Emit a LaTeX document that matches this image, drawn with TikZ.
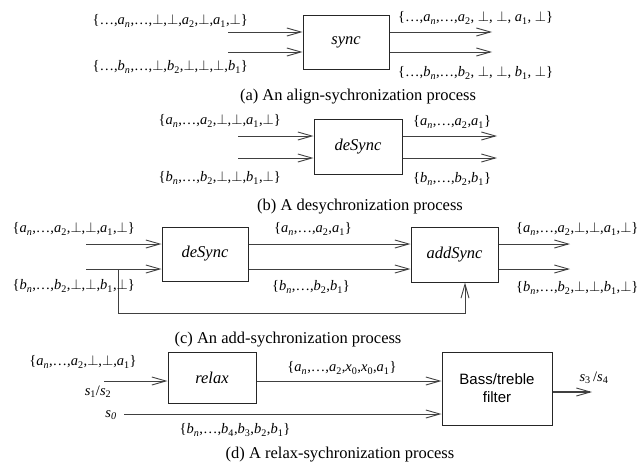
\documentclass[tikz,border=0pt]{standalone}
\usepackage{fontspec}
\setmainfont{Liberation Serif}
\newfontfamily\filterfont{Liberation Sans}
\usetikzlibrary{arrows.meta}
% indexed symbol: letter with a subscript
\newcommand{\ix}[2]{\textit{#1}\textsubscript{#2}}
\newcommand{\bt}{$\perp$}
\newcommand{\nn}{\textit{n}}
\begin{document}
\begin{tikzpicture}[x=1pt,y=-1pt,
  proc/.style={draw=black!85,line width=1pt,inner sep=0pt,
    font=\itshape\fontsize{16.5}{16.5}\selectfont},
  procsans/.style={draw=black!85,line width=1pt,inner sep=0pt,align=center,
    font=\filterfont\fontsize{15}{18}\selectfont},
  flow/.style={draw=black!75,line width=0.9pt,
    -{Straight Barb[length=14pt,width=8pt,line width=0.9pt]}},
  lbl/.style={inner sep=0pt,font=\fontsize{14.5}{15}\selectfont},
  captxt/.style={inner sep=0pt,font=\fontsize{16.5}{17}\selectfont}]
\useasboundingbox (0,0) rectangle (640,471);

% ---------- (a) align-synchronization ----------
\node[proc,minimum width=86pt,minimum height=54pt] (sync) at (346,42) {sync};
\coordinate (a-in1) at (228,32);
\coordinate (a-in2) at (228,52);
\coordinate (a-out1) at (492,32);
\coordinate (a-out2) at (492,52);
\draw[flow] (a-in1) -- (a-in1 -| sync.west);
\draw[flow] (a-in2) -- (a-in2 -| sync.west);
\draw[flow] (a-out1 -| sync.east) -- (a-out1);
\draw[flow] (a-out2 -| sync.east) -- (a-out2);
\node[lbl,anchor=east] (a-l1) at (248,21) {\{…,\ix{a}{\nn},…,\bt,\bt,\ix{a}{2},\bt,\ix{a}{1},\bt\}};
\node[lbl,anchor=east] (a-l2) at (248,67) {\{…,\ix{b}{\nn},…,\bt,\ix{b}{2},\bt,\bt,\bt,\ix{b}{1}\}};
\node[lbl,anchor=west] (a-r1) at (398,18) {\{…,\ix{a}{\nn},…,\ix{a}{2}, \bt, \bt, \ix{a}{1}, \bt\}};
\node[lbl,anchor=west] (a-r2) at (398,73) {\{…,\ix{b}{\nn},…,\ix{b}{2}, \bt, \bt, \ix{b}{1}, \bt\}};
\node[captxt] (cap-a) at (358,97) {(a) An align-sychronization process};

% ---------- (b) desynchronization ----------
\node[proc,minimum width=88pt,minimum height=55pt] (desync-b) at (358,147) {deSync};
\coordinate (b-in1) at (238,136);
\coordinate (b-in2) at (238,158);
\coordinate (b-out1) at (497,136);
\coordinate (b-out2) at (497,158);
\draw[flow] (b-in1) -- (b-in1 -| desync-b.west);
\draw[flow] (b-in2) -- (b-in2 -| desync-b.west);
\draw[flow] (b-out1 -| desync-b.east) -- (b-out1);
\draw[flow] (b-out2 -| desync-b.east) -- (b-out2);
\node[lbl,anchor=east] (b-l1) at (281,121) {\{\ix{a}{\nn},…,\ix{a}{2},\bt,\bt,\ix{a}{1},\bt\}};
\node[lbl,anchor=east] (b-l2) at (281,178) {\{\ix{b}{\nn},…,\ix{b}{2},\bt,\bt,\ix{b}{1},\bt\}};
\node[lbl,anchor=west] (b-r1) at (413,122) {\{\ix{a}{\nn},…,\ix{a}{2},\ix{a}{1}\}};
\node[lbl,anchor=west] (b-r2) at (413,179) {\{\ix{b}{\nn},…,\ix{b}{2},\ix{b}{1}\}};
\node[captxt] (cap-b) at (360,207) {(b) A desychronization process};

% ---------- (c) add-synchronization ----------
\node[proc,minimum width=86pt,minimum height=54pt] (desync-c) at (205,254) {deSync};
\node[proc,minimum width=87pt,minimum height=55pt] (addsync) at (454.5,254.5) {addSync};
\coordinate (c-in1) at (86,244);
\coordinate (c-in2) at (86,269);
\coordinate (c-out1) at (570,244);
\coordinate (c-out2) at (570,269);
\coordinate (c-tap) at (118,269);
\coordinate (c-fb) at (465,313);
\draw[flow] (c-in1) -- (c-in1 -| desync-c.west);
\draw[flow] (c-in2) -- (c-in2 -| desync-c.west);
\draw[flow] (c-in1 -| desync-c.east) -- (c-in1 -| addsync.west);
\draw[flow] (c-in2 -| desync-c.east) -- (c-in2 -| addsync.west);
\draw[flow] (c-out1 -| addsync.east) -- (c-out1);
\draw[flow] (c-out2 -| addsync.east) -- (c-out2);
\draw[flow] (c-tap) |- (c-fb) -- (c-fb |- addsync.south);
\node[lbl,anchor=east] (c-l1) at (135,229) {\{\ix{a}{\nn},…,\ix{a}{2},\bt,\bt,\ix{a}{1},\bt\}};
\node[lbl,anchor=east] (c-l2) at (135,286) {\{\ix{b}{\nn},…,\ix{b}{2},\bt,\bt,\ix{b}{1},\bt\}};
\node[lbl] (c-m1) at (313,229) {\{\ix{a}{\nn},…,\ix{a}{2},\ix{a}{1}\}};
\node[lbl] (c-m2) at (311,287) {\{\ix{b}{\nn},…,\ix{b}{2},\ix{b}{1}\}};
\node[lbl,anchor=west] (c-r1) at (516,229) {\{\ix{a}{\nn},…,\ix{a}{2},\bt,\bt,\ix{a}{1},\bt\}};
\node[lbl,anchor=west] (c-r2) at (516,288) {\{\ix{b}{\nn},…,\ix{b}{2},\bt,\bt,\ix{b}{1},\bt\}};
\node[captxt] (cap-c) at (288,340) {(c) An add-sychronization process};

% ---------- (d) relax-synchronization ----------
\node[proc,minimum width=88pt,minimum height=51pt] (relax) at (212,377.5) {relax};
\node[procsans,minimum width=110pt,minimum height=73pt] (filter) at (497,388.5) {Bass/treble\\filter};
\coordinate (d-in) at (104,381);
\coordinate (d-s0) at (124,414);
\coordinate (d-out) at (592,392);
\draw[flow] (d-in) -- (d-in -| relax.west);
\draw[flow] (d-in -| relax.east) -- (d-in -| filter.west);
\draw[flow] (d-s0) -- (d-s0 -| filter.west);
\draw[flow,line width=1.3pt] (d-out -| filter.east) -- (d-out);
\node[lbl] (d-l1) at (83,362) {\{\ix{a}{\nn},…,\ix{a}{2},\bt,\bt,\ix{a}{1}\}};
\node[lbl] (d-s12) at (98,392) {\ix{s}{1}/\ix{s}{2}};
\node[lbl] (d-s0l) at (111,415) {\ix{s}{\textit{0}}};
\node[lbl] (d-m1) at (342,368) {\{\ix{a}{\nn},…,\ix{a}{2},\ix{x}{0},\ix{x}{0},\ix{a}{1}\}};
\node[lbl] (d-m2) at (235,430) {\{\ix{b}{\nn},…,\ix{b}{4},\ix{b}{3},\ix{b}{2},\ix{b}{1}\}};
\node[lbl] (d-s34) at (594,378) {\ix{s}{3}\,/\ix{s}{4}};
\node[captxt] (cap-d) at (340,455) {(d) A relax-sychronization process};
\end{tikzpicture}
\end{document}
